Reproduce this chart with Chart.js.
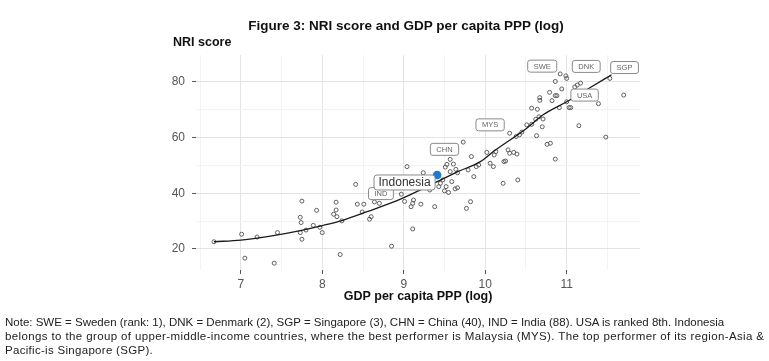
<!DOCTYPE html>
<html>
<head>
<meta charset="utf-8">
<script src="https://cdn.jsdelivr.net/npm/chart.js@4.4.0/dist/chart.umd.min.js"></script>
<style>
  body { margin: 0; background: #fff; width: 769px; height: 361px; overflow: hidden; position: relative; font-family: "Liberation Sans", Arial, sans-serif; }
  #chart { position: absolute; left: 0; top: 0; }
  .txt { position: absolute; white-space: nowrap; color: #111; }
  .note span { display: block; }
</style>
</head>
<body>
<canvas id="chart" width="769" height="361"></canvas>
<div class="txt" style="left:0;width:812px;text-align:center;top:18px;font-weight:bold;font-size:13.5px;">Figure 3: NRI score and GDP per capita PPP (log)</div>
<div class="txt" style="left:173px;top:35px;font-weight:bold;font-size:12.5px;">NRI score</div>
<div class="txt note" style="left:5px;top:315px;font-size:11.5px;line-height:14px;color:#222;">
<span style="letter-spacing:0px;">Note: SWE = Sweden (rank: 1), DNK = Denmark (2), SGP = Singapore (3), CHN = China (40), IND = India (88). USA is ranked 8th. Indonesia</span>
<span style="letter-spacing:0.38px;">belongs to the group of upper-middle-income countries, where the best performer is Malaysia (MYS). The top performer of its region-Asia &amp;</span>
<span style="letter-spacing:0.3px;">Pacific-is Singapore (SGP).</span>
</div>
<script>
// countries: log GDP per capita PPP and NRI score
const gdpLog = [6.67, 7.01, 7.05, 7.20, 7.41, 7.45, 7.75, 7.73, 7.74, 7.73, 7.75, 7.80, 7.89, 7.93, 7.97, 8.00,
  8.14, 8.17, 8.17, 8.18, 8.22, 8.24, 8.41, 8.43, 8.51, 8.49, 8.58, 8.60, 8.64, 8.70, 8.85, 8.97, 9.01, 9.04,
  9.11, 9.12, 9.09, 9.11, 9.21, 9.24, 9.32, 9.38, 9.43, 9.48, 9.50, 9.52, 9.59, 9.63, 9.66, 9.51, 9.57, 9.61,
  9.64, 9.66, 9.53, 9.57, 9.45, 9.55, 9.73, 9.77, 9.82, 9.86, 9.79, 9.83, 9.89, 9.92, 10.06, 10.10, 10.02,
  10.13, 10.11, 10.22, 10.23, 10.25, 10.28, 10.30, 10.30, 10.35, 10.39, 10.40, 10.38, 10.42, 10.45, 10.51,
  10.57, 10.63, 10.70, 10.62, 10.66, 10.71, 10.57, 10.64, 10.67, 10.67, 10.79, 10.82, 10.86, 10.88, 10.86,
  10.94, 10.92, 10.99, 11.00, 10.91, 11.00, 11.03, 11.05, 11.10, 11.13, 11.17, 11.15, 10.76, 10.80, 10.86,
  11.39, 11.48, 11.53, 11.70];
const nriScore = [22.6, 25.3, 16.7, 24.3, 14.9, 25.9, 37.2, 31.4, 29.5, 25.9, 23.5, 26.8, 28.5, 33.9, 27.8, 25.9,
  32.5, 36.8, 34.0, 31.6, 18.0, 30.1, 43.2, 36.1, 36.1, 33.3, 30.7, 31.6, 36.9, 36.4, 21.0, 39.7, 37.1, 49.6,
  36.4, 37.6, 35.2, 27.2, 36.1, 47.4, 41.2, 35.2, 42.4, 44.8, 40.9, 42.4, 44.2, 41.6, 42.0, 49.4, 52.2, 50.5,
  48.6, 47.4, 50.4, 47.8, 43.6, 40.3, 58.4, 34.6, 37.0, 46.0, 48.4, 53.2, 49.6, 50.2, 50.8, 49.6, 54.7,
  55.0, 53.8, 43.6, 51.4, 51.6, 55.6, 61.6, 54.4, 54.7, 54.1, 44.8, 60.4, 61.0, 62.0, 64.6,
  64.8, 60.7, 63.9, 66.6, 67.5, 66.7, 70.6, 70.2, 74.4, 73.4, 76.3, 73.3, 75.1, 75.1, 80.2,
  77.5, 82.9, 82.2, 81.3, 70.8, 72.9, 70.8, 70.8, 78.2, 78.9, 79.6, 64.3, 57.6, 58.0, 52.3,
  72.2, 60.2, 81.3, 75.3];

// smoothed fit line
const fitGdp = [6.67, 7.0, 7.4, 7.73, 8.0, 8.26, 8.55, 8.96, 9.37, 9.65, 9.94, 10.1, 10.51, 10.71, 11.0, 11.3, 11.55];
const fitNri = [22.6, 23.2, 24.8, 26.6, 28.4, 30.4, 33.4, 37.9, 43.6, 47.6, 51.4, 55.0, 63.4, 68.2, 72.9, 78.2, 82.6];

const indoGdp = [9.41];
const indoNri = [46.6];

const tagNames = ['SWE', 'DNK', 'SGP', 'USA', 'MYS', 'CHN', 'IND', 'Indonesia'];
const tagGdp = [10.70, 11.24, 11.71, 11.22, 10.06, 9.50, 8.72, 9.01];
const tagNri = [85.7, 85.6, 85.2, 75.3, 64.6, 55.8, 39.9, 43.9];

const xTicks = [6.5, 7, 7.5, 8, 8.5, 9, 9.5, 10, 10.5, 11, 11.5];
const yTicks = [20, 30, 40, 50, 60, 70, 80];

const isMajorX = v => Number.isInteger(v);
const isMajorY = v => v % 20 === 0;

const tagPlugin = {
  id: 'tags',
  afterDatasetsDraw(chart) {
    const { ctx, scales: { x, y } } = chart;
    ctx.save();
    tagNames.forEach((name, i) => {
      const big = name === 'Indonesia';
      const px = x.getPixelForValue(tagGdp[i]);
      const py = y.getPixelForValue(tagNri[i]);
      ctx.font = (big ? '12px' : '7.5px') + ' "Liberation Sans", Arial, sans-serif';
      const w = ctx.measureText(name).width + (big ? 9 : 12);
      const h = big ? 15 : 12;
      ctx.beginPath();
      ctx.roundRect(px - w / 2, py - h / 2, w, h, big ? 3 : 2.5);
      ctx.fillStyle = '#fff';
      ctx.fill();
      ctx.strokeStyle = '#8a8a8a';
      ctx.lineWidth = 1;
      ctx.stroke();
      ctx.fillStyle = big ? '#333' : '#666';
      ctx.textAlign = 'center';
      ctx.textBaseline = 'middle';
      ctx.fillText(name, px, py + 0.5);
    });
    ctx.restore();
  }
};

new Chart(document.getElementById('chart'), {
  type: 'scatter',
  data: {
    datasets: [
      {
        label: 'Countries',
        data: gdpLog.map((g, i) => ({ x: g, y: nriScore[i] })),
        pointRadius: 2,
        pointBorderWidth: 1,
        pointBorderColor: '#5e5e5e',
        pointBackgroundColor: 'rgba(0,0,0,0)',
        order: 2,
      },
      {
        label: 'Fit',
        type: 'line',
        data: fitGdp.map((g, i) => ({ x: g, y: fitNri[i] })),
        borderColor: '#1a1a1a',
        borderWidth: 1.3,
        pointRadius: 0,
        cubicInterpolationMode: 'monotone',
        fill: false,
        order: 1,
      },
      {
        label: 'Indonesia',
        data: indoGdp.map((g, i) => ({ x: g, y: indoNri[i] })),
        pointRadius: 4.3,
        pointBorderWidth: 0,
        pointBackgroundColor: '#1f7bc8',
        order: 0,
      },
    ],
  },
  options: {
    responsive: false,
    animation: false,
    layout: { padding: { left: 156, right: 129, top: 55, bottom: 55 } },
    plugins: { legend: { display: false }, tooltip: { enabled: false } },
    scales: {
      x: {
        type: 'linear',
        min: 6.45,
        max: 11.9,
        afterBuildTicks: (s) => { s.ticks = xTicks.map(v => ({ value: v })); },
        afterFit: (s) => { s.height = 36; },
        border: { display: false },
        grid: {
          color: c => isMajorX(c.tick.value) ? '#e4e4e4' : '#f3f3f3',
          tickColor: c => isMajorX(c.tick.value) ? '#555' : 'rgba(0,0,0,0)',
          tickLength: 4,
        },
        ticks: {
          callback: v => isMajorX(v) ? v : '',
          color: '#555',
          font: { size: 12, family: '"Liberation Sans", Arial, sans-serif' },
          padding: 3,
          maxRotation: 0,
          autoSkip: false,
        },
        title: {
          display: true,
          text: 'GDP per capita PPP (log)',
          color: '#111',
          font: { size: 12.5, weight: 'bold', family: '"Liberation Sans", Arial, sans-serif' },
          padding: { top: 0, bottom: 1.5 },
        },
      },
      y: {
        type: 'linear',
        min: 12.45,
        max: 89.7,
        afterBuildTicks: (s) => { s.ticks = yTicks.map(v => ({ value: v })); },
        afterFit: (s) => { s.width = 40; },
        border: { display: false },
        grid: {
          color: c => isMajorY(c.tick.value) ? '#e4e4e4' : '#f3f3f3',
          tickColor: c => isMajorY(c.tick.value) ? '#555' : 'rgba(0,0,0,0)',
          tickLength: 4,
        },
        ticks: {
          callback: v => isMajorY(v) ? v : '',
          color: '#555',
          font: { size: 12, family: '"Liberation Sans", Arial, sans-serif' },
          padding: 7,
          autoSkip: false,
        },
      },
    },
  },
  plugins: [tagPlugin],
});
</script>
</body>
</html>
